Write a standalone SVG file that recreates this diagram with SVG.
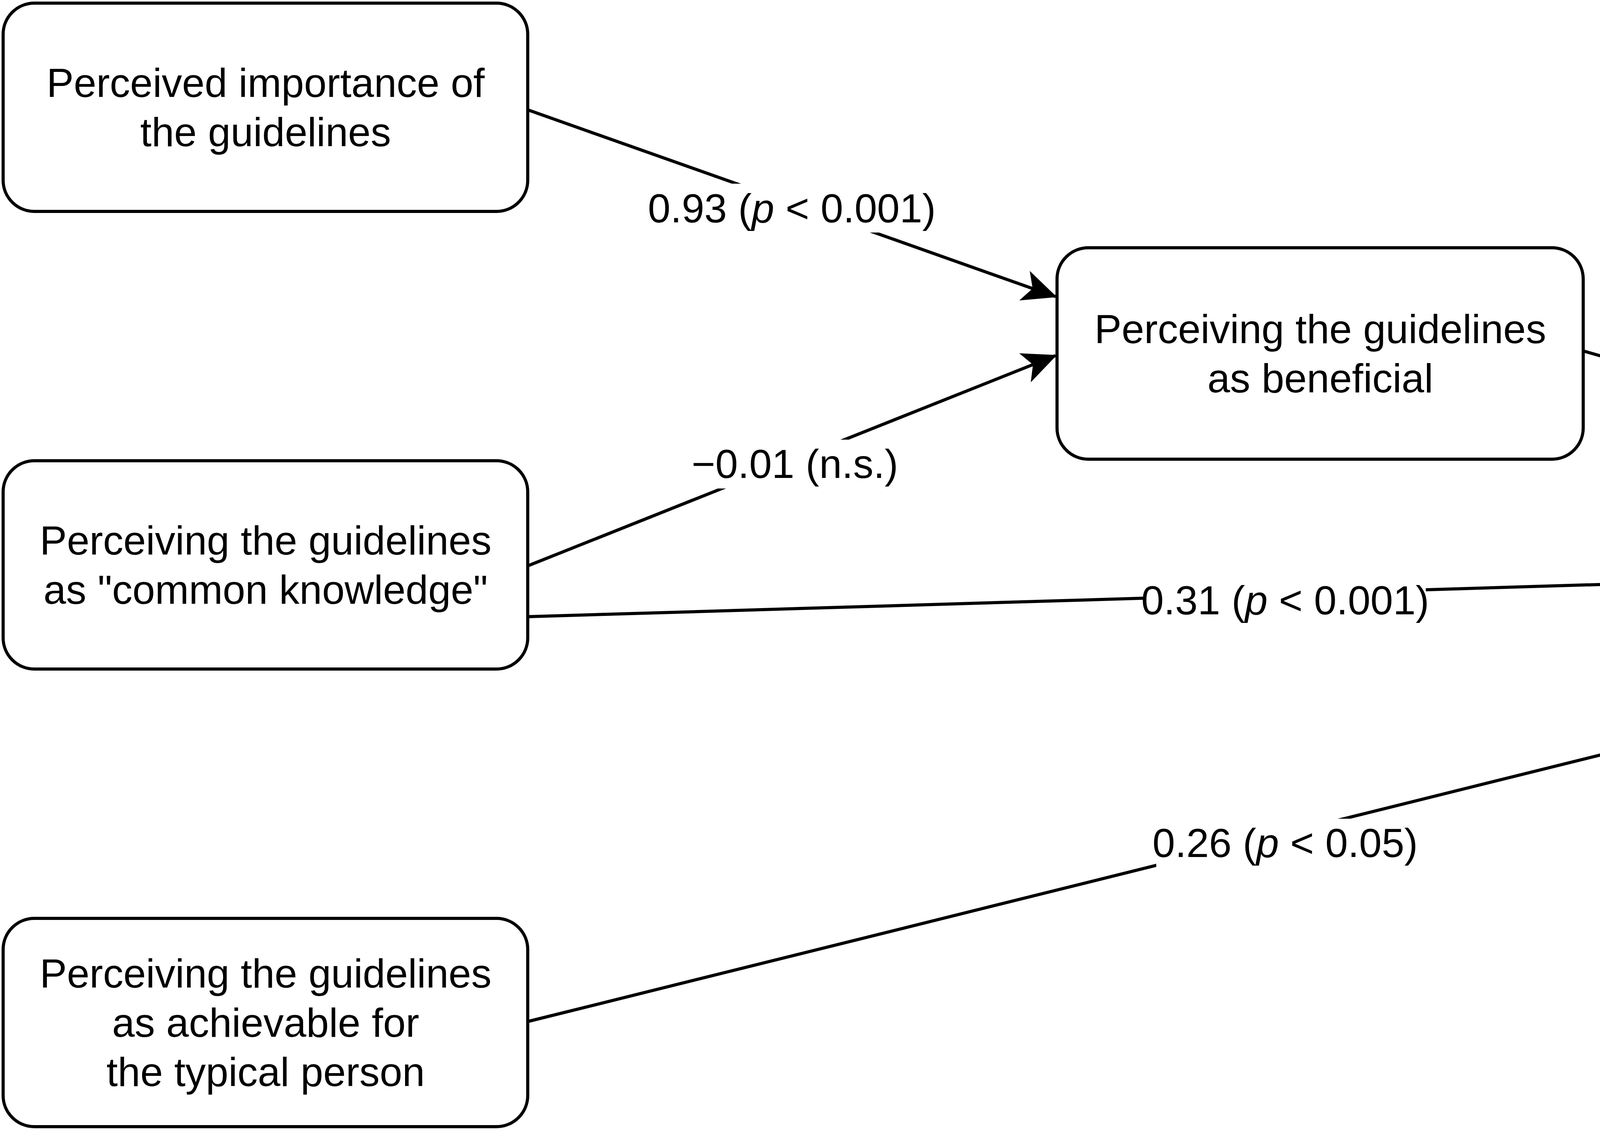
<svg xmlns="http://www.w3.org/2000/svg" width="6579" height="2889" viewBox="0 0 6579 2889">
<style>
.box{fill:#fff;stroke:#000;stroke-width:8}
.t{font-family:"Liberation Sans",Arial,sans-serif;font-size:104px;text-anchor:middle;dominant-baseline:central;fill:#000}
.e{stroke:#000;stroke-width:8;fill:none;marker-end:url(#arr)}
.lb{fill:#fff}
</style>
<defs>
<marker id="arr" markerUnits="userSpaceOnUse" markerWidth="90" markerHeight="80" viewBox="0 0 90 80" refX="84" refY="40" orient="auto">
<path d="M0,0 L88,40 L0,80 L22,40 Z" fill="#000"/>
</marker>
</defs>
<rect width="6579" height="2889" fill="#fff"/>
<g id="connectors">
<path class="e" d="M1351,281 L2702,759"/>
<path class="e" d="M1351,1448 L2702,910"/>
<path class="e" d="M4053,898 L5245,1240"/>
<path class="e" d="M1351,1578 L5220,1462"/>
<path class="e" d="M1351,2614 L5220,1653"/>
<rect class="lb" x="1665" y="470" width="725" height="125"/>
<text class="t" x="2027" y="533">0.93 (<tspan font-style="italic">p</tspan> &lt; 0.001)</text>
<rect class="lb" x="1770" y="1125" width="530" height="125"/>
<text class="t" x="2035" y="1187">−0.01 (n.s.)</text>
<rect class="lb" x="4420" y="1012" width="460" height="125"/>
<text class="t" x="4649" y="1074">0.10 (n.s.)</text>
<rect class="lb" x="2930" y="1474" width="720" height="125"/>
<text class="t" x="3290" y="1536">0.31 (<tspan font-style="italic">p</tspan> &lt; 0.001)</text>
<rect class="lb" x="2960" y="2095" width="660" height="125"/>
<text class="t" x="3290" y="2157">0.26 (<tspan font-style="italic">p</tspan> &lt; 0.05)</text>
</g>
<g id="n1"><rect class="box" x="8" y="8" width="1343" height="533" rx="80"/>
<text class="t" x="680" y="212">Perceived importance of</text><text class="t" x="680" y="338">the guidelines</text></g>
<g id="n2"><rect class="box" x="2706" y="634" width="1347" height="541" rx="80"/>
<text class="t" x="3380" y="842">Perceiving the guidelines</text><text class="t" x="3380" y="968">as beneficial</text></g>
<g id="n3"><rect class="box" x="8" y="1179" width="1343" height="533" rx="80"/>
<text class="t" x="680" y="1383">Perceiving the guidelines</text><text class="t" x="680" y="1509">as "common knowledge"</text></g>
<g id="n4"><rect class="box" x="5224" y="1179" width="1347" height="533" rx="80"/>
<text class="t" x="5898" y="1383">Adherence to the</text><text class="t" x="5898" y="1509">guidelines</text></g>
<g id="n5"><rect class="box" x="8" y="2350" width="1343" height="533" rx="80"/>
<text class="t" x="680" y="2491">Perceiving the guidelines</text><text class="t" x="680" y="2617">as achievable for</text><text class="t" x="680" y="2743">the typical person</text></g>
</svg>
